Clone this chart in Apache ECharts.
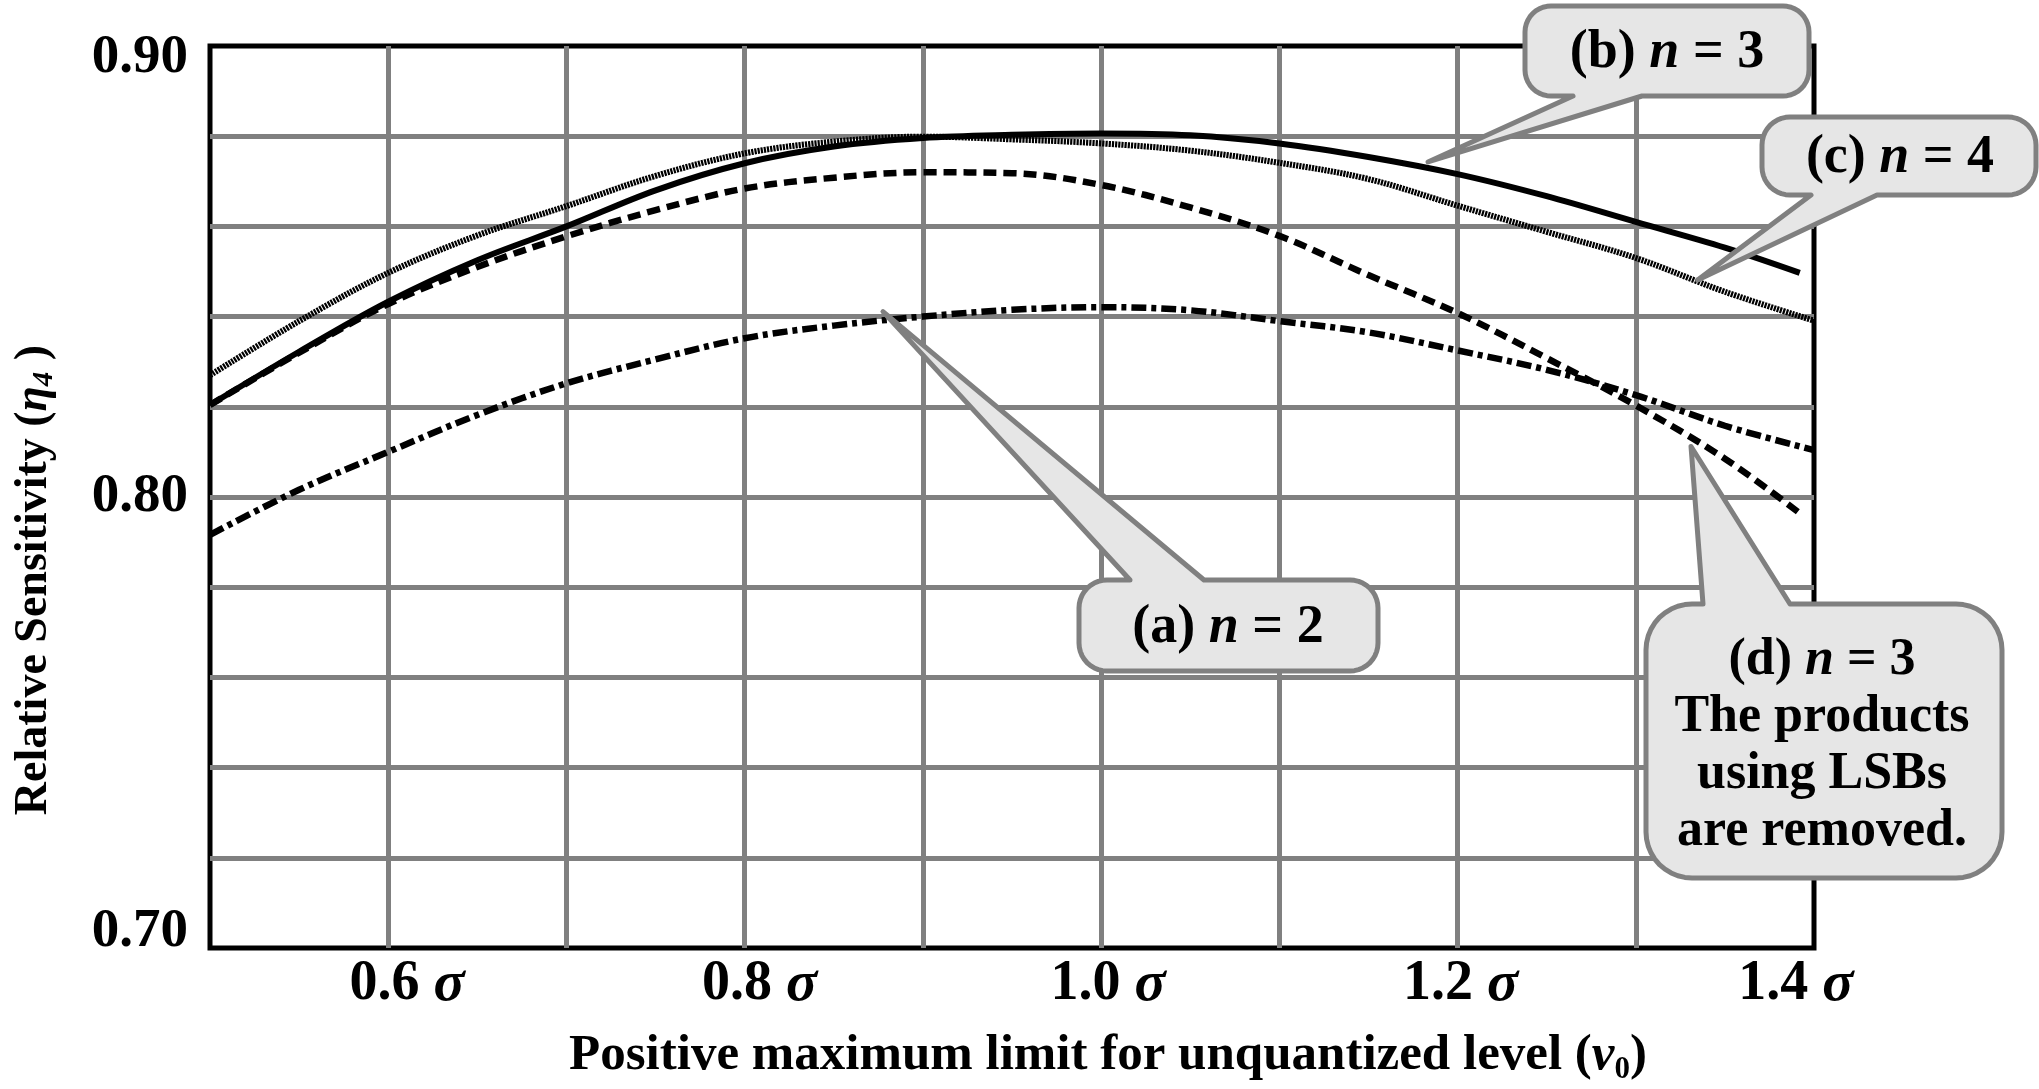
<!DOCTYPE html>
<html>
<head>
<meta charset="utf-8">
<script src="https://cdn.jsdelivr.net/npm/echarts@6.0.0/dist/echarts.min.js"></script>
<style>
html,body{margin:0;padding:0;background:#ffffff;}
#chart{width:2039px;height:1089px;}
</style>
</head>
<body>
<div id="chart"></div>
<script>
// ---------- data ----------
const xValues      = [0.50,0.55,0.60,0.65,0.70,0.75,0.80,0.85,0.90,0.95,1.00,1.05,1.10,1.15,1.20,1.25,1.30,1.35,1.40];
const xValuesShort = [0.50,0.55,0.60,0.65,0.70,0.75,0.80,0.85,0.90,0.95,1.00,1.05,1.10,1.15,1.20,1.25,1.30,1.35,1.392];

// (a) n = 2
const sensA = [0.7916,0.8016,0.8100,0.8182,0.8252,0.8305,0.8352,0.8380,0.8400,0.8415,0.8421,0.8414,0.8390,0.8365,0.8325,0.8282,0.8226,0.8158,0.8104];
// (b) n = 3
const sensB = [0.8204,0.8322,0.8433,0.8525,0.8600,0.8680,0.8740,0.8777,0.8796,0.8803,0.8806,0.8802,0.8784,0.8754,0.8716,0.8667,0.8610,0.8553,0.8497];
// (c) n = 4
const sensC = [0.8270,0.8390,0.8497,0.8580,0.8645,0.8712,0.8762,0.8788,0.8799,0.8793,0.8784,0.8768,0.8741,0.8705,0.8646,0.8588,0.8530,0.8455,0.8391];
// (d) n = 3, products using LSBs removed
const sensD = [0.8204,0.8320,0.8428,0.8510,0.8578,0.8636,0.8684,0.8708,0.8720,0.8718,0.8692,0.8642,0.8579,0.8492,0.8408,0.8308,0.8203,0.8085,0.7964];

const yTickLabels = {70:'0.70', 80:'0.80', 90:'0.90'};
const xTickLabels = {6:'0.6', 8:'0.8', 10:'1.0', 12:'1.2', 14:'1.4'};

// callout anchors (data coordinates the pointers aim at)
const anchorA = [0.8776, 0.8411];
const anchorB = [1.1834, 0.8743];
const anchorC = [1.3347, 0.8481];
const anchorD = [1.3310, 0.8112];

// ---------- styling / layout ----------
const FONT = '"Liberation Serif","Times New Roman",serif';
const xLabelShift = {6:19, 8:15, 10:7, 12:3, 14:-18};   // px offsets of tick labels as drawn in the reference

const xRich = {};
Object.keys(xLabelShift).forEach(function(k){
  const s = xLabelShift[k];
  xRich['n' + k] = {fontFamily: FONT, fontWeight: 'bold', fontSize: 56, color: '#000', padding: [0,0,0, s > 0 ? 2*s : 0]};
  xRich['s' + k] = {fontFamily: FONT, fontWeight: 'bold', fontStyle: 'italic', fontSize: 58, color: '#000', padding: [0, s < 0 ? -2*s : 0, 0, 0]};
});

const chart = echarts.init(document.getElementById('chart'), null, {renderer:'canvas'});
function pairs(xs, ys){ return xs.map((x,i)=>[x, ys[i]]); }

const option = {
  animation: false,
  backgroundColor: '#ffffff',
  grid: {
    left: 210, right: 225, top: 46, bottom: 141,
    show: true, borderColor: '#000000', borderWidth: 5, backgroundColor: 'transparent',
    containLabel: false, outerBoundsMode: 'none'
  },
  xAxis: {
    type: 'value', min: 0.5, max: 1.4, interval: 0.1,
    axisLine: {show: false}, axisTick: {show: false},
    splitLine: {show: true, showMinLine: false, showMaxLine: false, lineStyle: {color: '#808080', width: 5}},
    axisLabel: {
      show: true, margin: 8, showMinLabel: true, showMaxLabel: true, hideOverlap: false,
      formatter: function(v){
        const k = Math.round(v*10);
        return xTickLabels[k] ? '{n' + k + '|' + xTickLabels[k] + ' }{s' + k + '|σ}' : '';
      },
      rich: xRich
    },
    name: '{n|Positive maximum limit for unquantized level (}{v|v}{sub|0}{n|)}',
    nameLocation: 'middle', nameGap: 78,
    nameTextStyle: {
      padding: [0,0,0,192],
      rich: {
        n: {fontFamily: FONT, fontWeight: 'bold', fontSize: 51, color: '#000'},
        v: {fontFamily: FONT, fontWeight: 'bold', fontStyle: 'italic', fontSize: 51, color: '#000'},
        sub: {fontFamily: FONT, fontWeight: 'bold', fontSize: 31, color: '#000', padding: [28,0,0,0]}
      }
    }
  },
  yAxis: {
    type: 'value', min: 0.70, max: 0.90, interval: 0.02,
    axisLine: {show: false}, axisTick: {show: false},
    splitLine: {show: true, showMinLine: false, showMaxLine: false, lineStyle: {color: '#808080', width: 5}},
    axisLabel: {
      show: true, margin: 22, showMinLabel: true, showMaxLabel: true, hideOverlap: false,
      formatter: function(v){
        const k = Math.round(v*100);
        if (k === 90) return '{t|' + yTickLabels[90] + '}';
        if (k === 80) return '{m|' + yTickLabels[80] + '}';
        if (k === 70) return '{b|' + yTickLabels[70] + '}';
        return '';
      },
      rich: {
        t: {fontFamily: FONT, fontWeight: 'bold', fontSize: 55, color: '#000', padding: [24,0,0,0]},
        m: {fontFamily: FONT, fontWeight: 'bold', fontSize: 55, color: '#000'},
        b: {fontFamily: FONT, fontWeight: 'bold', fontSize: 55, color: '#000', padding: [0,0,32,0]}
      }
    }
  },
  series: [
    {name: '(a) n = 2', type: 'line', data: pairs(xValues, sensA), symbol: 'none', smooth: 0.35, z: 3,
     lineStyle: {color: '#000', width: 6.5, type: [15,5,5,5], cap: 'butt'}},
    {name: '(d) n = 3 LSB removed', type: 'line', data: pairs(xValuesShort, sensD), symbol: 'none', smooth: 0.35, z: 3,
     lineStyle: {color: '#000', width: 6.5, type: [13,7], cap: 'butt'}},
    {name: '(c) n = 4', type: 'line', data: pairs(xValues, sensC), symbol: 'none', smooth: 0.35, z: 4,
     lineStyle: {color: '#000', width: 6, type: [2.2,1], cap: 'butt'}},
    {name: '(b) n = 3', type: 'line', data: pairs(xValuesShort, sensB), symbol: 'none', smooth: 0.35, z: 5,
     lineStyle: {color: '#000', width: 6, type: 'solid'}}
  ]
};
chart.setOption(option);

// ---------- callouts ----------
function roundedCallout(box, r, side, base, tip){
  const [x0,y0,x1,y1] = box;
  const pts = [];
  function arc(cx, cy, a0, a1){
    const n = 10;
    for (let i=0;i<=n;i++){
      const a = a0 + (a1-a0)*i/n;
      pts.push([cx + r*Math.cos(a), cy + r*Math.sin(a)]);
    }
  }
  arc(x0+r, y0+r, Math.PI, Math.PI*1.5);
  if (side === 'top'){ pts.push([base[0], y0]); pts.push(tip); pts.push([base[1], y0]); }
  arc(x1-r, y0+r, Math.PI*1.5, Math.PI*2);
  arc(x1-r, y1-r, 0, Math.PI*0.5);
  if (side === 'bottom'){ pts.push([base[1], y1]); pts.push(tip); pts.push([base[0], y1]); }
  arc(x0+r, y1-r, Math.PI*0.5, Math.PI);
  return pts;
}

const calloutDefs = [
  {anchor: anchorB, box: [1525,6,1809,96], r: 26, side: 'bottom', base: [1573,1642],
   text: '{t|(b) }{i|n}{t| = 3}', cx: 1667, cy: 53, fs: 54},
  {anchor: anchorC, box: [1762,117,2036,195], r: 28, side: 'bottom', base: [1811,1877],
   text: '{t|(c) }{i|n}{t| = 4}', cx: 1900, cy: 158, fs: 54},
  {anchor: anchorA, box: [1079,580,1378,671], r: 28, side: 'top', base: [1130,1204],
   text: '{t|(a) }{i|n}{t| = 2}', cx: 1228, cy: 628, fs: 54},
  {anchor: anchorD, box: [1646,604,2002,878], r: 46, side: 'top', base: [1703,1790],
   text: '{t|(d) }{i|n}{t| = 3}\n{t|The products}\n{t|using LSBs}\n{t|are removed.}', cx: 1822, cy: 746, fs: 52, lh: 57}
];

const elements = [];
calloutDefs.forEach(function(c){
  const tip = chart.convertToPixel({xAxisIndex:0, yAxisIndex:0}, c.anchor);
  elements.push({
    type: 'polygon', z: 100, silent: true,
    shape: {points: roundedCallout(c.box, c.r, c.side, c.base, tip)},
    style: {fill: '#e6e6e6', stroke: '#808080', lineWidth: 5, lineJoin: 'round'}
  });
  const lh = c.lh || c.fs + 4;
  elements.push({
    type: 'text', z: 101, silent: true, x: c.cx, y: c.cy,
    style: {
      text: c.text, align: 'center', verticalAlign: 'middle',
      rich: {
        t: {fontFamily: FONT, fontWeight: 'bold', fontSize: c.fs, fill: '#000', lineHeight: lh},
        i: {fontFamily: FONT, fontWeight: 'bold', fontStyle: 'italic', fontSize: c.fs, fill: '#000', lineHeight: lh}
      }
    }
  });
});

// y-axis title (rotated)
elements.push({
  type: 'text', z: 50, silent: true, x: 34, y: 580, rotation: Math.PI/2,
  style: {
    text: '{n|Relative Sensitivity (}{e|η}{s|4}{n| )}', align: 'center', verticalAlign: 'middle',
    rich: {
      n: {fontFamily: FONT, fontWeight: 'bold', fontSize: 46, fill: '#000'},
      e: {fontFamily: FONT, fontWeight: 'bold', fontStyle: 'italic', fontSize: 46, fill: '#000'},
      s: {fontFamily: FONT, fontWeight: 'bold', fontStyle: 'italic', fontSize: 29, fill: '#000', padding: [22,0,0,0]}
    }
  }
});

chart.setOption({graphic: {elements: elements}});
</script>
</body>
</html>
